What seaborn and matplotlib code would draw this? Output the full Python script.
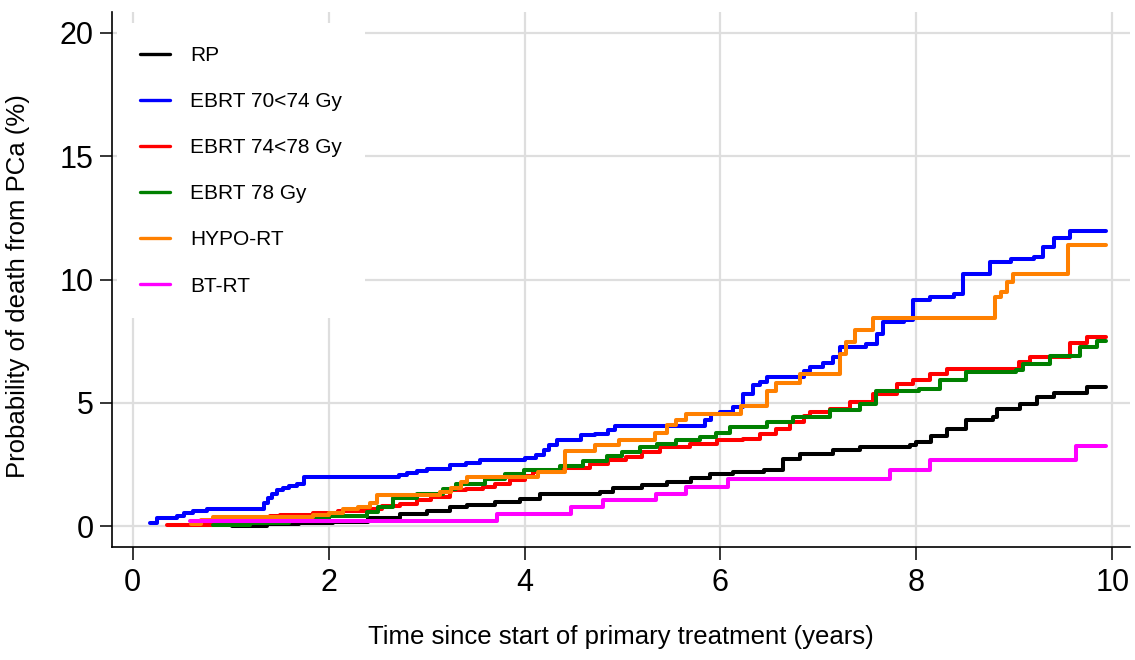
import matplotlib
matplotlib.use("Agg")
import matplotlib.pyplot as plt
import pandas as pd
import seaborn as sns

groups = ['RP', 'EBRT 70<74 Gy', 'EBRT 74<78 Gy', 'EBRT 78 Gy', 'HYPO-RT', 'BT-RT']
colors = ['#000000', '#0000ff', '#ff0000', '#008000', '#ff8000', '#ff00ff']

# (years, cumulative incidence %), step after each point
rp = [(1.01, 0.0), (1.37, 0.08), (1.7, 0.12), (2.05, 0.17), (2.4, 0.32), (2.73, 0.48),
      (3.0, 0.62), (3.24, 0.78), (3.41, 0.85), (3.7, 1.0), (3.95, 1.12), (4.16, 1.3),
      (4.77, 1.39), (4.9, 1.55), (5.2, 1.68), (5.45, 1.79), (5.7, 1.95), (5.89, 2.1),
      (6.13, 2.2), (6.44, 2.27), (6.64, 2.74), (6.81, 2.91), (7.15, 3.1), (7.42, 3.21),
      (7.93, 3.28), (8.0, 3.41), (8.15, 3.65), (8.31, 3.95), (8.51, 4.29), (8.78, 4.43),
      (8.82, 4.77), (9.06, 4.97), (9.23, 5.24), (9.4, 5.4), (9.74, 5.64), (9.94, 5.64)]

ebrt_70 = [(0.18, 0.15), (0.25, 0.35), (0.45, 0.42), (0.52, 0.55), (0.62, 0.62), (0.76, 0.72),
           (1.34, 0.95), (1.38, 1.15), (1.42, 1.3), (1.47, 1.45), (1.53, 1.55), (1.6, 1.65),
           (1.68, 1.72), (1.75, 2.0), (2.72, 2.08), (2.8, 2.16), (2.9, 2.25), (3.0, 2.33),
           (3.24, 2.47), (3.4, 2.55), (3.55, 2.67), (4.0, 2.75), (4.12, 2.87), (4.2, 3.1),
           (4.25, 3.28), (4.33, 3.5), (4.58, 3.68), (4.72, 3.75), (4.85, 3.9), (4.92, 4.05),
           (5.84, 4.3), (5.9, 4.56), (6.0, 4.65), (6.13, 4.83), (6.23, 5.37), (6.33, 5.71),
           (6.4, 5.85), (6.47, 6.05), (6.85, 6.3), (6.91, 6.45), (7.05, 6.6), (7.15, 6.86),
           (7.22, 7.26), (7.49, 7.4), (7.6, 7.8), (7.66, 8.27), (7.87, 8.34), (7.97, 9.15),
           (8.14, 9.28), (8.38, 9.42), (8.48, 10.23), (8.75, 10.7), (8.97, 10.84), (9.2, 10.9),
           (9.29, 11.3), (9.4, 11.7), (9.57, 11.98), (9.94, 11.98)]

ebrt_74 = [(0.35, 0.05), (0.82, 0.1), (1.0, 0.2), (1.2, 0.3), (1.4, 0.4), (1.5, 0.45),
           (1.84, 0.52), (2.1, 0.6), (2.39, 0.72), (2.55, 0.82), (2.73, 0.92), (2.9, 1.05),
           (3.05, 1.2), (3.24, 1.46), (3.4, 1.52), (3.58, 1.59), (3.7, 1.72), (3.85, 1.86),
           (4.0, 2.05), (4.09, 2.2), (4.36, 2.38), (4.67, 2.54), (4.85, 2.67), (5.04, 2.8),
           (5.2, 3.0), (5.38, 3.2), (5.69, 3.35), (5.96, 3.48), (6.23, 3.55), (6.4, 3.75),
           (6.57, 3.96), (6.71, 4.22), (6.85, 4.45), (6.91, 4.63), (7.12, 4.77), (7.32, 5.03),
           (7.56, 5.37), (7.8, 5.78), (7.97, 5.91), (8.14, 6.18), (8.31, 6.38), (9.05, 6.65),
           (9.16, 6.86), (9.57, 7.42), (9.74, 7.69), (9.94, 7.69)]

ebrt_78 = [(0.82, 0.05), (1.2, 0.15), (1.6, 0.3), (2.0, 0.42), (2.39, 0.58), (2.5, 0.8),
           (2.66, 1.13), (2.9, 1.3), (3.17, 1.53), (3.3, 1.7), (3.6, 1.9), (3.8, 2.1),
           (3.99, 2.27), (4.36, 2.43), (4.6, 2.65), (4.84, 2.83), (5.0, 3.0), (5.18, 3.21),
           (5.35, 3.35), (5.55, 3.51), (5.79, 3.6), (5.95, 3.8), (6.1, 4.02), (6.47, 4.22),
           (6.74, 4.43), (7.12, 4.7), (7.42, 4.97), (7.59, 5.5), (8.03, 5.57), (8.24, 5.91),
           (8.51, 6.25), (9.02, 6.32), (9.09, 6.59), (9.36, 6.92), (9.67, 7.26), (9.84, 7.5),
           (9.94, 7.5)]

hypo = [(0.6, 0.1), (0.7, 0.25), (0.82, 0.38), (1.84, 0.45), (2.0, 0.55), (2.15, 0.68),
        (2.3, 0.8), (2.42, 0.95), (2.49, 1.25), (3.14, 1.4), (3.25, 1.55), (3.35, 1.8),
        (3.41, 2.0), (4.14, 2.2), (4.41, 3.05), (4.72, 3.28), (4.96, 3.5), (5.33, 3.78),
        (5.45, 4.09), (5.55, 4.3), (5.65, 4.56), (6.21, 4.86), (6.48, 5.5), (6.57, 5.8),
        (6.81, 6.18), (7.22, 7.0), (7.28, 7.46), (7.37, 7.94), (7.56, 8.45), (8.8, 9.28),
        (8.86, 9.5), (8.92, 9.9), (8.99, 10.23), (9.55, 11.4), (9.94, 11.4)]

bt_rt = [(0.59, 0.22), (3.72, 0.5), (4.47, 0.78), (4.8, 1.05), (5.34, 1.32), (5.65, 1.59),
         (6.08, 1.9), (7.73, 2.3), (8.14, 2.7), (9.63, 3.24), (9.94, 3.24)]

x_ticks = [0, 2, 4, 6, 8, 10]
y_ticks = [0, 5, 10, 15, 20]

series = [rp, ebrt_70, ebrt_74, ebrt_78, hypo, bt_rt]
rows = []
for name, pts in zip(groups, series):
    for x, y in pts:
        rows.append({'time': x, 'prob': y, 'group': name})
df = pd.DataFrame(rows)

sns.set_style("whitegrid", {'grid.color': '#dedede', 'axes.edgecolor': 'black',
                            'text.color': 'black', 'axes.labelcolor': 'black',
                            'xtick.color': 'black', 'ytick.color': 'black'})
plt.rcParams['font.family'] = ['Liberation Sans', 'DejaVu Sans']

fig = plt.figure(figsize=(11.35, 6.6), dpi=100)
ax = fig.add_axes([0.0987, 0.1712, 0.8969, 0.8106])

sns.lineplot(data=df, x='time', y='prob', hue='group', hue_order=groups,
             palette=colors, estimator=None, drawstyle='steps-post',
             linewidth=2.9, ax=ax)

ax.set_xlim(-0.21, 10.18)
ax.set_ylim(-0.84, 20.84)
ax.set_xticks(x_ticks)
ax.set_yticks(y_ticks)
ax.grid(True, color='#dedede', linewidth=1.6)

for s in ['top', 'right']:
    ax.spines[s].set_visible(False)
for s in ['left', 'bottom']:
    ax.spines[s].set_linewidth(1.2)
    ax.spines[s].set_color('black')

ax.tick_params(axis='both', which='major', direction='out', length=9, width=1.1,
               color='black', labelcolor='black', left=True, bottom=True)
ax.tick_params(axis='y', pad=4, labelsize=22)
ax.tick_params(axis='x', pad=6, labelsize=22)

ax.set_xlabel('Time since start of primary treatment (years)', fontsize=18.5, color='black')
ax.set_ylabel('Probability of death from PCa (%)', fontsize=18.5, color='black')
ax.xaxis.set_label_coords(0.5, -0.145)
ax.yaxis.set_label_coords(-0.081, 0.488)

handles, labels = ax.get_legend_handles_labels()
leg = ax.legend(handles, labels, loc='upper left', bbox_to_anchor=(0.005, 0.979),
                borderaxespad=0, fontsize=15, frameon=True, fancybox=False,
                facecolor='white', edgecolor='none', framealpha=1,
                handlelength=1.45, handletextpad=0.95, labelspacing=1.3,
                borderpad=1.1)
for line in leg.get_lines():
    line.set_linewidth(2.4)
for t in leg.get_texts():
    t.set_color('black')

fig.savefig('out.png', dpi=100)
